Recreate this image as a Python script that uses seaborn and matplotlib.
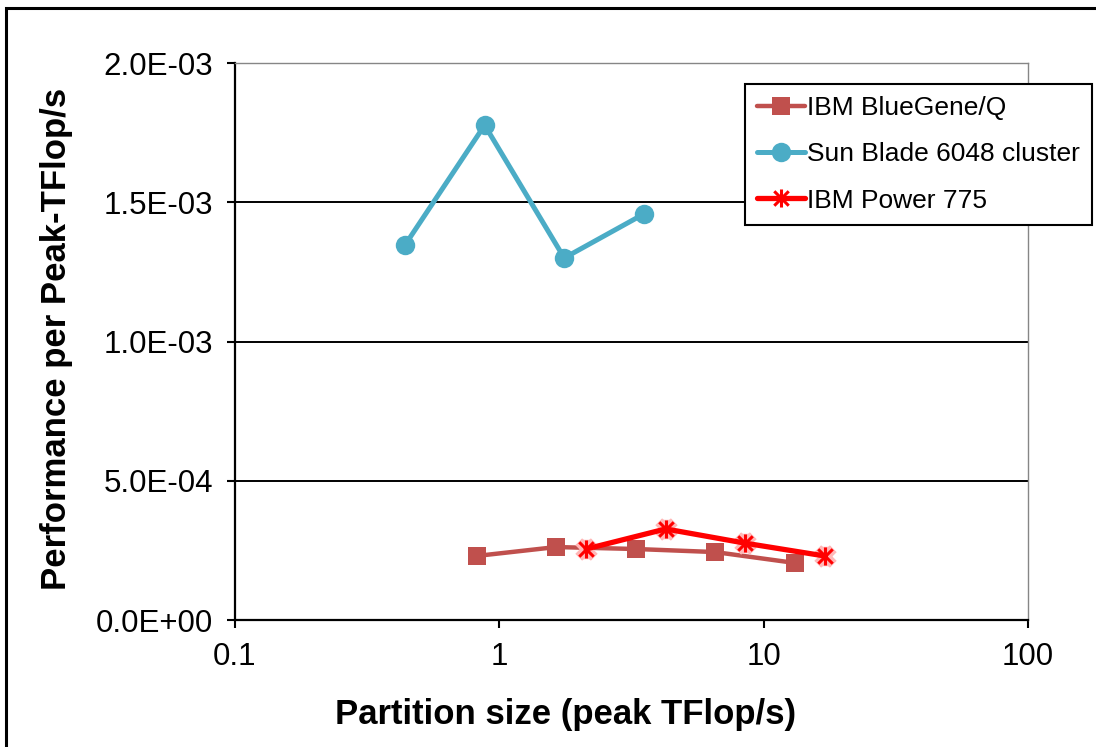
import numpy as np
import pandas as pd
import seaborn as sns
import matplotlib
matplotlib.use("Agg")
import matplotlib.pyplot as plt
from matplotlib.path import Path
from matplotlib.patches import Rectangle
from matplotlib.ticker import FixedLocator, FuncFormatter, NullLocator

# Partition sizes (peak TFlop/s) and performance per peak TFlop/s
bgq_size = [0.82, 1.64, 3.28, 6.55, 13.1]
bgq_perf = [2.30e-4, 2.62e-4, 2.55e-4, 2.44e-4, 2.05e-4]

sun_size = [0.44, 0.88, 1.76, 3.52]
sun_perf = [1.347e-3, 1.777e-3, 1.300e-3, 1.458e-3]

p775_size = [2.13, 4.26, 8.5, 17.0]
p775_perf = [2.55e-4, 3.27e-4, 2.76e-4, 2.30e-4]

series_names = ["IBM BlueGene/Q", "Sun Blade 6048 cluster", "IBM Power 775"]
y_ticks = [0.0, 5e-4, 1e-3, 1.5e-3, 2e-3]
x_ticks = [0.1, 1, 10, 100]
x_tick_labels = ["0.1", "1", "10", "100"]

sns.set_theme(style="white")
plt.rcParams["font.family"] = ["Liberation Sans", "DejaVu Sans"]

fig = plt.figure(figsize=(10.96, 7.47), dpi=100)
ax = fig.add_axes([0.2144, 0.170, 0.7236, 0.7456])

# asterisk marker: vertical bar plus an X
star = Path([(0, -1), (0, 1), (-0.8, -0.8), (0.8, 0.8), (-0.8, 0.8), (0.8, -0.8)],
            [Path.MOVETO, Path.LINETO, Path.MOVETO, Path.LINETO, Path.MOVETO, Path.LINETO])

c_bgq = "#C0504D"
c_sun = "#4BACC6"
c_p775 = "#FF0000"

df_bgq = pd.DataFrame({"size": bgq_size, "perf": bgq_perf})
df_sun = pd.DataFrame({"size": sun_size, "perf": sun_perf})
df_p775 = pd.DataFrame({"size": p775_size, "perf": p775_perf})

sns.lineplot(data=df_bgq, x="size", y="perf", ax=ax, color=c_bgq, lw=3.2,
             marker="s", markersize=13.5, markeredgecolor=c_bgq, markeredgewidth=0,
             label=series_names[0], zorder=3)
sns.lineplot(data=df_sun, x="size", y="perf", ax=ax, color=c_sun, lw=3.6,
             marker="o", markersize=14, markeredgecolor=c_sun, markeredgewidth=0,
             label=series_names[1], zorder=3)
# soft pink glow under the asterisk markers
ax.plot(p775_size, p775_perf, ls="none", marker=star, markersize=14,
        markeredgecolor="#FFB8B8", markeredgewidth=7, zorder=3.5)
sns.lineplot(data=df_p775, x="size", y="perf", ax=ax, color=c_p775, lw=3.8,
             marker=star, markersize=13, markeredgecolor=c_p775, markeredgewidth=2.2,
             label=series_names[2], zorder=4)

ax.set_xscale("log")
ax.set_xlim(0.1, 100)
ax.set_ylim(0, 2e-3)
ax.xaxis.set_major_locator(FixedLocator(x_ticks))
ax.xaxis.set_minor_locator(NullLocator())
ax.set_xticklabels(x_tick_labels)
ax.yaxis.set_major_locator(FixedLocator(y_ticks))
ax.yaxis.set_major_formatter(FuncFormatter(lambda v, p: f"{v:.1E}"))

ax.grid(axis="y", color="black", lw=1.4)
ax.grid(axis="x", visible=False)
ax.set_axisbelow(True)

ax.tick_params(axis="both", which="major", direction="out", length=6, width=1.5,
               color="black", labelsize=22.5, labelcolor="black", pad=10,
               bottom=True, left=True)

for side in ("left", "bottom"):
    ax.spines[side].set_color("black")
    ax.spines[side].set_linewidth(1.6)
for side in ("top", "right"):
    ax.spines[side].set_color("#868686")
    ax.spines[side].set_linewidth(1.0)

ax.set_xlabel("Partition size (peak TFlop/s)", fontsize=25, fontweight="bold",
              color="black")
ax.xaxis.set_label_coords(0.417, -0.14)
ax.set_ylabel("Performance per Peak-TFlop/s", fontsize=25, fontweight="bold",
              color="black")
ax.yaxis.set_label_coords(-0.204, 0.505)

leg = ax.legend(loc="upper left", bbox_to_anchor=(0.680, 0.8876),
                bbox_transform=fig.transFigure, borderaxespad=0,
                fontsize=19, frameon=True, fancybox=False, handlelength=1.8,
                handletextpad=0.1, labelspacing=0.85, borderpad=0.45)
leg.get_frame().set_edgecolor("black")
leg.get_frame().set_linewidth(1.5)
leg.get_frame().set_facecolor("white")
leg.get_frame().set_alpha(1)
for t in leg.get_texts():
    t.set_color("black")

# outer border around the figure
fig.patches.append(Rectangle((6 / 1096, -0.01), 1.02, 1 - 8 / 747 + 0.01,
                             transform=fig.transFigure, fill=False,
                             edgecolor="black", lw=2.2, zorder=10))

fig.savefig("out.png", dpi=100)
